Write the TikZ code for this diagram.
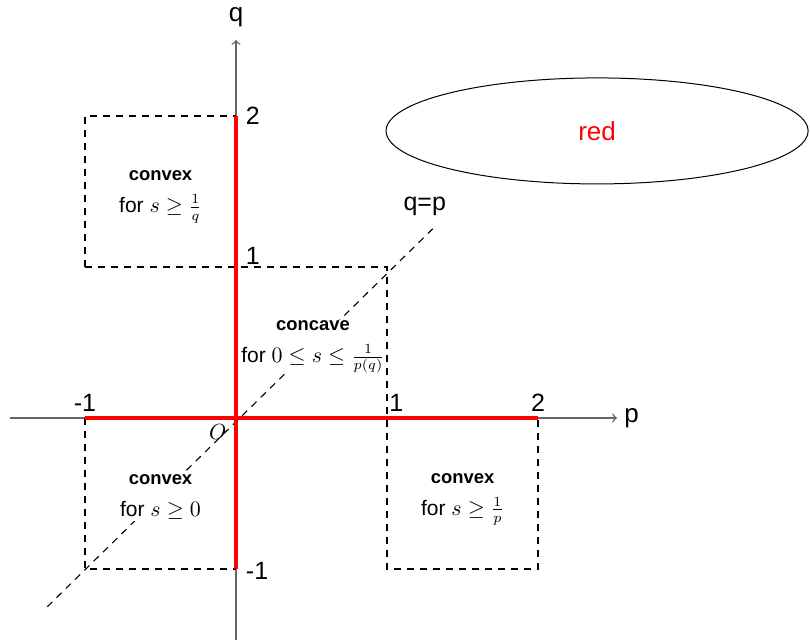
\documentclass[tikz,border=0pt]{standalone}
\usepackage{fontspec}
\setmainfont{Liberation Sans}
\usetikzlibrary{shapes.geometric}
\begin{document}
\begin{tikzpicture}[x=75.5pt,y=75.5pt,
  axis/.style={draw=black!60, line width=0.7pt, ->},
  region/.style={draw=black, dash pattern=on 3.5pt off 3pt, line width=0.55pt},
  bound/.style={draw=red, line width=2pt},
  ticklbl/.style={font=\fontsize{12.5}{14}\selectfont, inner sep=1pt},
  lbl/.style={align=center, fill=white, inner sep=0.5pt, font=\fontsize{9.2}{16}\selectfont}]
\useasboundingbox (-1.563,-1.490) rectangle (3.801,2.768);
% points
\coordinate (O) at (0,0);
\coordinate (xs) at (-1.497,0);
\coordinate (xe) at (2.523,0);
\coordinate (ys) at (0,-1.470);
\coordinate (ye) at (0,2.503);
\coordinate (m1x) at (-1,0);
\coordinate (p1x) at (1,0);
\coordinate (p2x) at (2,0);
\coordinate (m1y) at (0,-1);
\coordinate (p1y) at (0,1);
\coordinate (p2y) at (0,2);
\coordinate (a) at (-1,2);
\coordinate (b) at (-1,1);
\coordinate (c) at (1,1);
\coordinate (d) at (1,-1);
\coordinate (e) at (2,-1);
\coordinate (f) at (-1,-1);
\coordinate (ds) at (-1.25,-1.25);
\coordinate (de) at (1.31,1.26);
% axes
\draw[axis] (xs) -- (xe) node[right, font=\fontsize{13}{14}\selectfont] (plbl) {p};
\draw[axis] (ys) -- (ye) node[above=3pt, font=\fontsize{13}{14}\selectfont] (qlbl) {q};
% diagonal q=p
\draw[region] (ds) -- (de);
% region labels
\node[lbl] (r1) at (-0.5,1.465) {\textbf{convex}\\{\fontsize{10.5}{12}\selectfont for $s\geq\frac{1}{q}$}};
\node[lbl] (r2) at (0.51,0.47) {\textbf{concave}\\{\fontsize{10.5}{12}\selectfont for $0\leq s\leq\frac{1}{p(q)}$}};
\node[lbl] (r3) at (-0.5,-0.525) {\textbf{convex}\\{\fontsize{10.5}{12}\selectfont for $s\geq 0$}};
\node[lbl] (r4) at (1.5,-0.54) {\textbf{convex}\\{\fontsize{10.5}{12}\selectfont for $s\geq\frac{1}{p}$}};
% dashed regions
\draw[region] (b) -- (a) -- (p2y);
\draw[region] (b) -- (c) -- (d) -- (e) -- (p2x);
\draw[region] (m1x) -- (f) -- (m1y);
% red boundaries
\draw[bound] (m1x) -- (p2x);
\draw[bound] (m1y) -- (p2y);
% tick labels
\node[ticklbl, anchor=south] (t1) at (-1,0.03) {-1};
\node[ticklbl, anchor=south west] (t2) at (1,0.03) {1};
\node[ticklbl, anchor=south] (t3) at (2,0.03) {2};
\node[ticklbl, anchor=west] (t4) at (0.05,2) {2};
\node[ticklbl, anchor=south west] (t5) at (0.05,1) {1};
\node[ticklbl, anchor=west] (t6) at (0.05,-1.01) {-1};
\node[font=\fontsize{12.5}{14}\selectfont] (qp) at (1.25,1.40) {q=p};
\node[font=\fontsize{11}{12}\selectfont] (olbl) at (-0.12,-0.09) {$O$};
% ellipse
\node[ellipse, draw, line width=0.5pt, minimum width=211pt, minimum height=53pt, inner sep=0pt,
      text=red, font=\fontsize{13}{14}\selectfont] (red) at (2.391,1.901) {red};
\end{tikzpicture}
\end{document}
